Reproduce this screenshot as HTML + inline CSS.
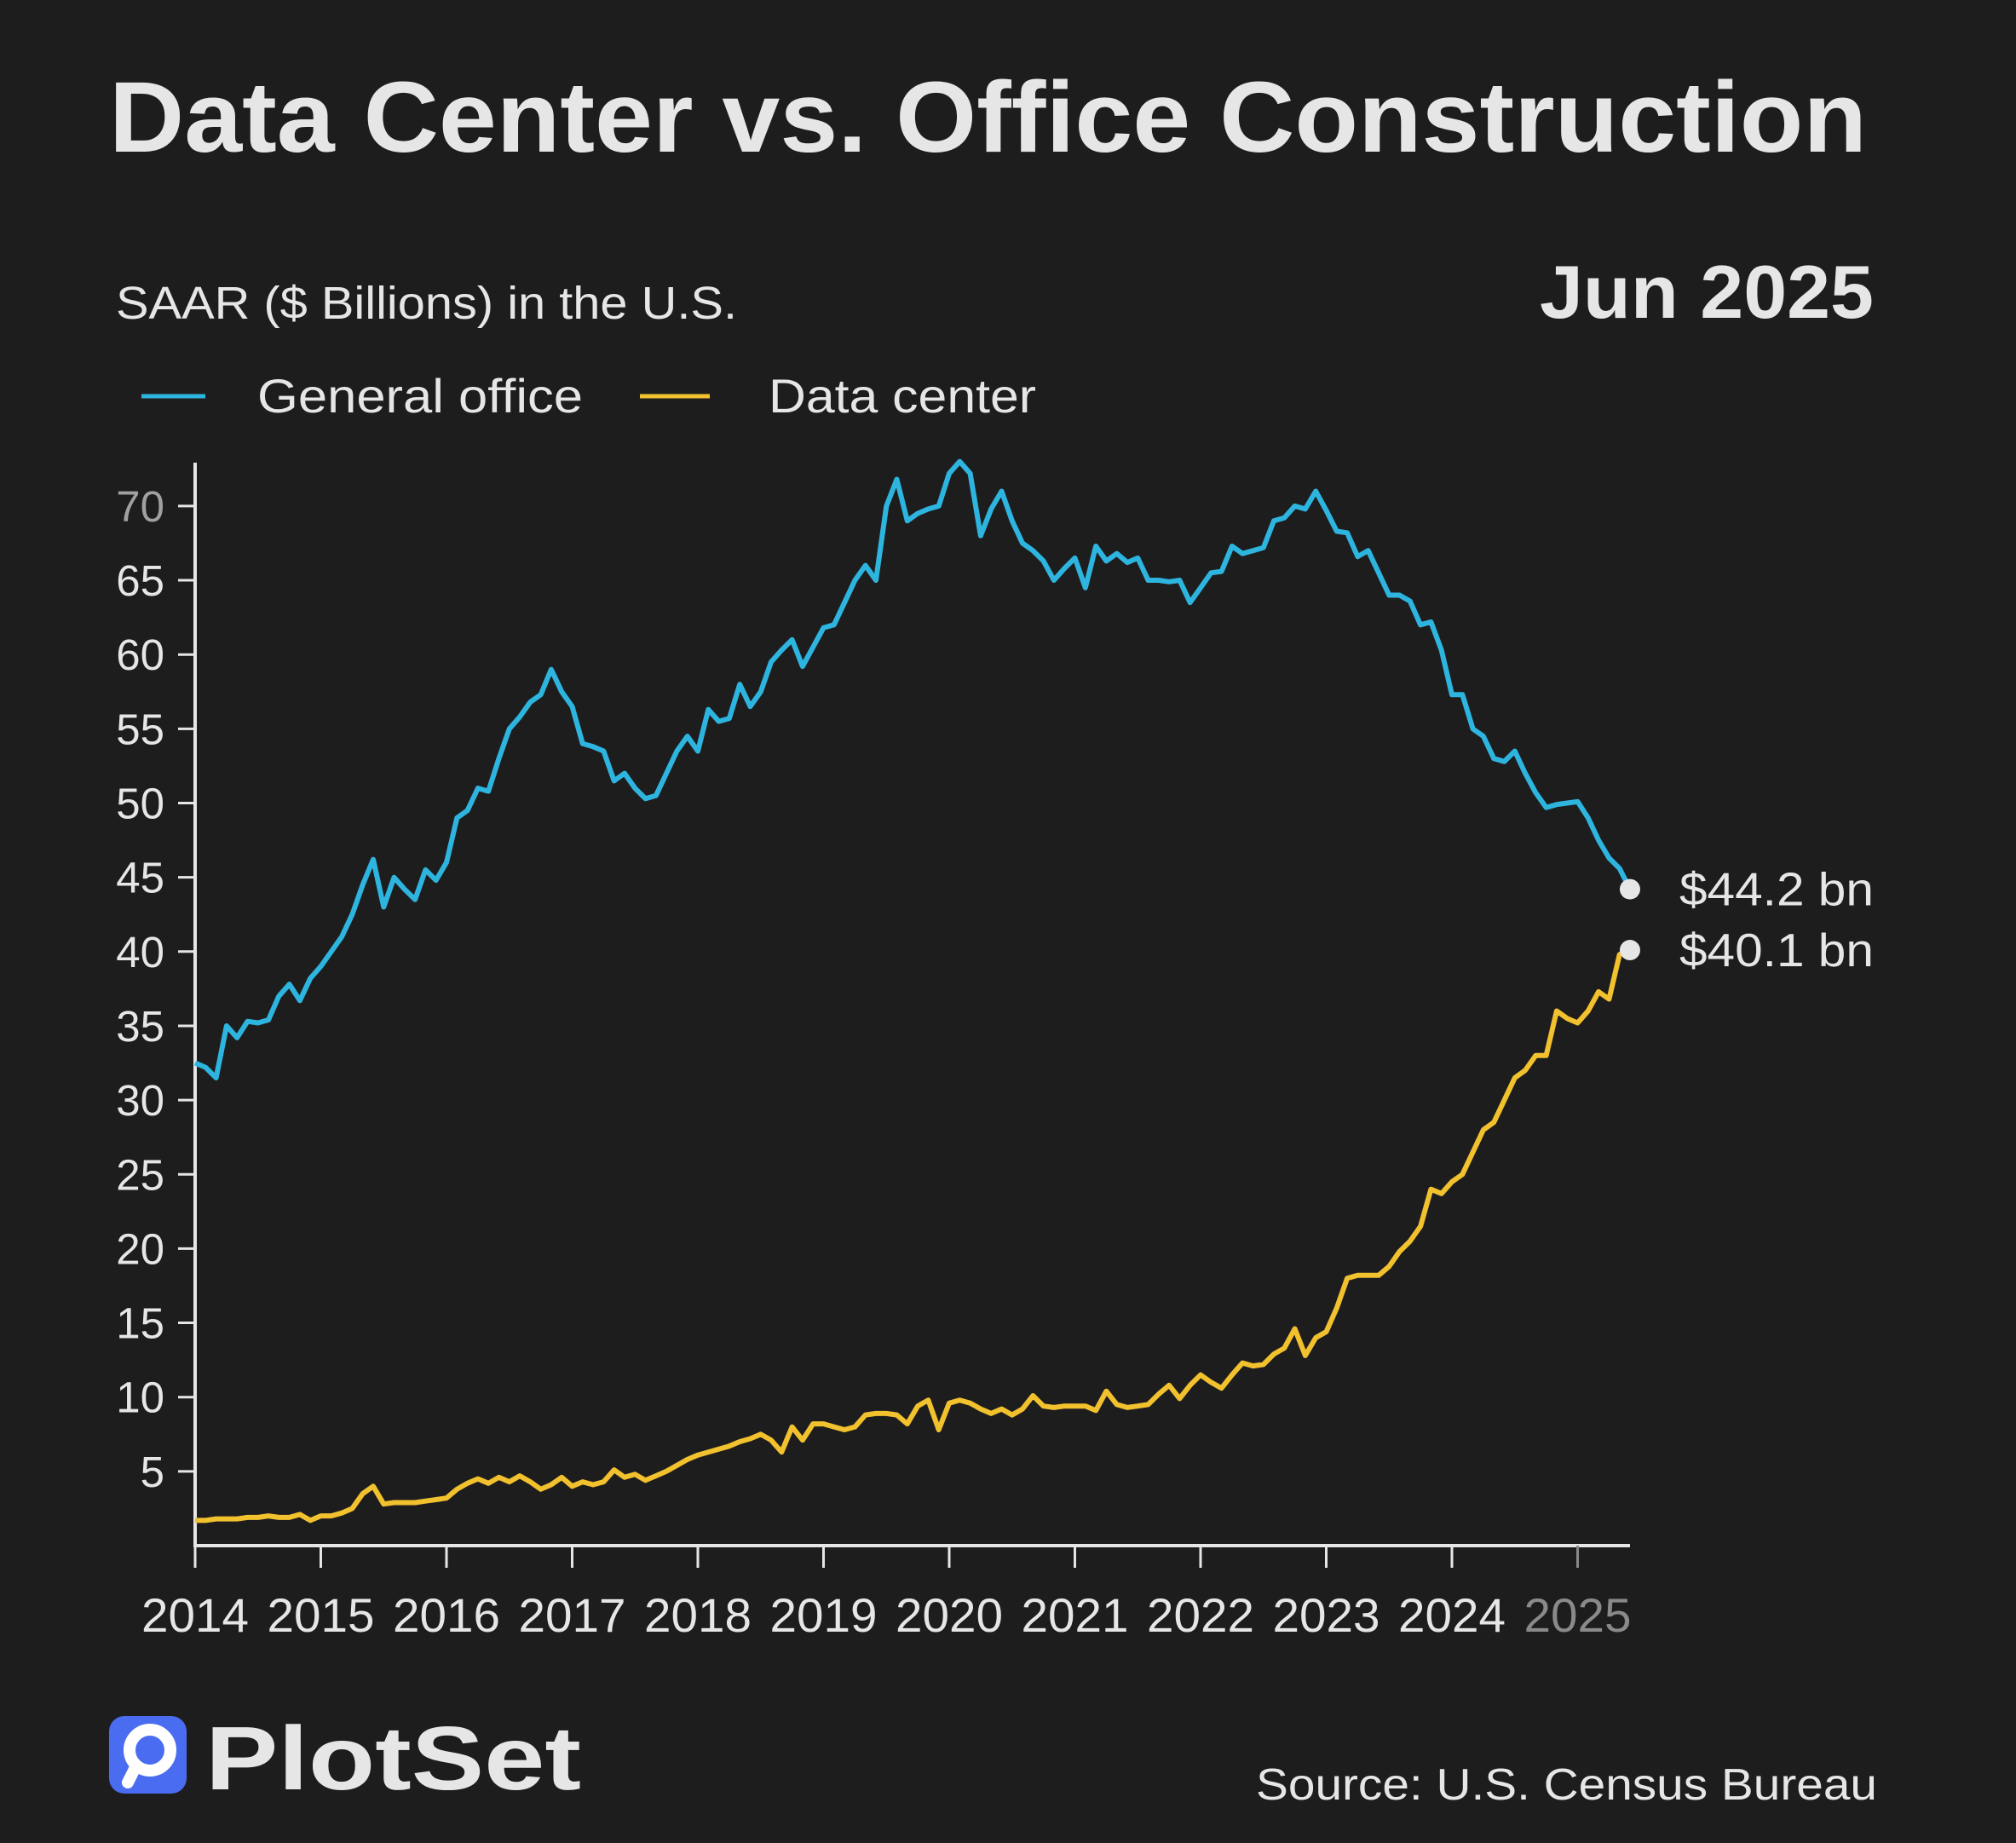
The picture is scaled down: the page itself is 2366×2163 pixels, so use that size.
<!DOCTYPE html>
<html><head><meta charset="utf-8"><style>
html,body{margin:0;padding:0;background:#1e1d1e;}
svg{display:block;font-family:"Liberation Sans",sans-serif;}
</style></head><body>
<svg id="chart" width="2366" height="2163" viewBox="0 0 2366 2163" xmlns="http://www.w3.org/2000/svg">
<rect width="2366" height="2163" fill="#1e1d1e"/>
<text x="128" y="178" font-size="118" font-weight="bold" fill="#e6e6e6" textLength="2063" lengthAdjust="spacingAndGlyphs">Data Center vs. Office Construction</text>
<text x="136" y="374" font-size="54" fill="#e6e6e6" textLength="729" lengthAdjust="spacingAndGlyphs">SAAR ($ Billions) in the U.S.</text>
<text x="2199" y="373" font-size="88" font-weight="bold" fill="#e6e6e6" text-anchor="end" textLength="392" lengthAdjust="spacingAndGlyphs">Jun 2025</text>
<g>
<line x1="166" y1="465" x2="241" y2="465" stroke="#2db5e0" stroke-width="5"/>
<text x="302" y="484" font-size="56" fill="#e6e6e6" textLength="382" lengthAdjust="spacingAndGlyphs">General office</text>
<line x1="751" y1="465" x2="833" y2="465" stroke="#f2c12e" stroke-width="5"/>
<text x="902" y="484" font-size="56" fill="#e6e6e6" textLength="314" lengthAdjust="spacingAndGlyphs">Data center</text>
</g>
<g id="axes"></g>
<g id="series"></g>
<g>
<rect x="128" y="2014" width="91" height="91" rx="18" fill="#4a6cf0"/>
<circle cx="176" cy="2054" r="24" fill="none" stroke="#fff" stroke-width="14"/>
<line x1="160" y1="2072" x2="150" y2="2092" stroke="#fff" stroke-width="14" stroke-linecap="round"/>
<text x="241" y="2100" font-size="106" font-weight="bold" fill="#e6e6e6" textLength="441" lengthAdjust="spacingAndGlyphs">PlotSet</text>
</g>
<text x="2203" y="2112" font-size="52" fill="#e6e6e6" text-anchor="end" textLength="729" lengthAdjust="spacingAndGlyphs">Source: U.S. Census Bureau</text>
</svg>
<script>
const yearLabels = ["2014","2015","2016","2017","2018","2019","2020","2021","2022","2023","2024","2025"];
const yTicks = [5,10,15,20,25,30,35,40,45,50,55,60,65,70];
const officeValues = [
32.5,32.2,31.5,35,34.2,35.3,35.2,35.4,37,37.8,36.7,38.2,
39,40,41,42.5,44.5,46.2,43,45,44.2,43.5,45.5,44.8,
46,49,49.5,51,50.8,53,55,55.8,56.8,57.3,59,57.5,
56.5,54,53.8,53.5,51.5,52,51,50.3,50.5,52,53.5,54.5,
53.5,56.3,55.5,55.7,58,56.5,57.5,59.5,60.3,61,59.2,60.5,
61.8,62,63.5,65,66,65,70,71.8,69,69.5,69.8,70,
72.2,73,72.2,68,69.8,71,69,67.5,67,66.3,65,65.8,
66.5,64.5,67.3,66.3,66.8,66.2,66.5,65,65,64.9,65,63.5,
64.5,65.5,65.6,67.3,66.8,67,67.2,69,69.2,70,69.8,71,
69.7,68.3,68.2,66.6,67,65.5,64,64,63.6,62,62.2,60.3,
57.3,57.3,55,54.5,53,52.8,53.5,52,50.7,49.7,49.9,50,
50.1,49,47.5,46.3,45.6,44.2];
const dataCenterValues = [
1.7,1.7,1.8,1.8,1.8,1.9,1.9,2.0,1.9,1.9,2.1,1.7,
2.0,2.0,2.2,2.5,3.5,4.0,2.8,2.9,2.9,2.9,3.0,3.1,
3.2,3.8,4.2,4.5,4.2,4.6,4.3,4.7,4.3,3.8,4.1,4.6,
4.0,4.3,4.1,4.3,5.1,4.6,4.8,4.4,4.7,5.0,5.4,5.8,
6.1,6.3,6.5,6.7,7.0,7.2,7.5,7.1,6.3,8.0,7.1,8.2,
8.2,8.0,7.8,8.0,8.8,8.9,8.9,8.8,8.2,9.4,9.8,7.8,
9.6,9.8,9.6,9.2,8.9,9.2,8.8,9.2,10.1,9.4,9.3,9.4,
9.4,9.4,9.1,10.4,9.5,9.3,9.4,9.5,10.2,10.8,9.9,10.8,
11.5,11.0,10.6,11.5,12.3,12.1,12.2,12.9,13.3,14.6,12.8,14.0,
14.4,16.0,18.0,18.2,18.2,18.2,18.8,19.8,20.5,21.5,24.0,23.7,
24.5,25.0,26.5,28.0,28.5,30.0,31.5,32.0,33.0,33.0,36.0,35.5,
35.2,36.0,37.3,36.8,39.8,40.1];
const endLabels = ["$44.2 bn","$40.1 bn"];

const NS="http://www.w3.org/2000/svg";
const X0=229, PER_YEAR=147.5, Y0=1814, PER_UNIT=17.43;
function xScale(monthIndex){ return X0 + monthIndex/12*PER_YEAR; }
function yScale(v){ return Y0 - v*PER_UNIT; }
function mk(tag, attrs, parent){ const e=document.createElementNS(NS,tag); for(const k in attrs) e.setAttribute(k,attrs[k]); parent.appendChild(e); return e; }

const axes=document.getElementById('axes');
const yAxis=mk('line',{x1:X0,y1:543,x2:X0,y2:Y0,stroke:'#e6e6e6','stroke-width':4},axes);


const xAxis=mk('line',{x1:X0-2,y1:Y0,x2:1913,y2:Y0,stroke:'#e6e6e6','stroke-width':4},axes);


yTicks.forEach(function(t){
  const y=yScale(t);
  const tk=mk('line',{x1:X0-20,y1:y,x2:X0,y2:y,stroke:'#e6e6e6','stroke-width':3},axes);
  
  
  const lb=mk('text',{x:193,y:y+18,'font-size':51,fill:t===70?'#a0a0a0':'#e6e6e6','text-anchor':'end'},axes);
  lb.textContent=String(t);
  
  
});
yearLabels.forEach(function(yr,i){
  const x=xScale(i*12);
  const last=i===yearLabels.length-1;
  const tk=mk('line',{x1:x,y1:Y0,x2:x,y2:1840,stroke:last?'#888':'#e6e6e6','stroke-width':3},axes);
  
  
  const lb=mk('text',{x:x,y:1915,'font-size':56,fill:last?'#8a8a8a':'#e6e6e6','text-anchor':'middle',textLength:126,lengthAdjust:'spacingAndGlyphs'},axes);
  lb.textContent=yr;
  
  
});

const series=document.getElementById('series');
function drawLine(vals,color,name){
  const pts=vals.map(function(v,i){return xScale(i).toFixed(1)+','+yScale(v).toFixed(1);}).join(' ');
  const pl=mk('polyline',{points:pts,fill:'none',stroke:color,'stroke-width':6,'stroke-linejoin':'round'},series);
  
  
}
drawLine(officeValues,'#2db5e0','office-line');
drawLine(dataCenterValues,'#f2c12e','datacenter-line');
[officeValues,dataCenterValues].forEach(function(vals,i){
  const n=vals.length-1, x=xScale(n), y=yScale(vals[n]);
  const c=mk('circle',{cx:x,cy:y,r:12,fill:'#e6e6e6'},series);
  
  
  const t=mk('text',{x:x+58,y:y+19,'font-size':55,fill:'#e6e6e6',textLength:228,lengthAdjust:'spacingAndGlyphs'},series);
  t.textContent=endLabels[i];
  
  
});
</script>
</body></html>
